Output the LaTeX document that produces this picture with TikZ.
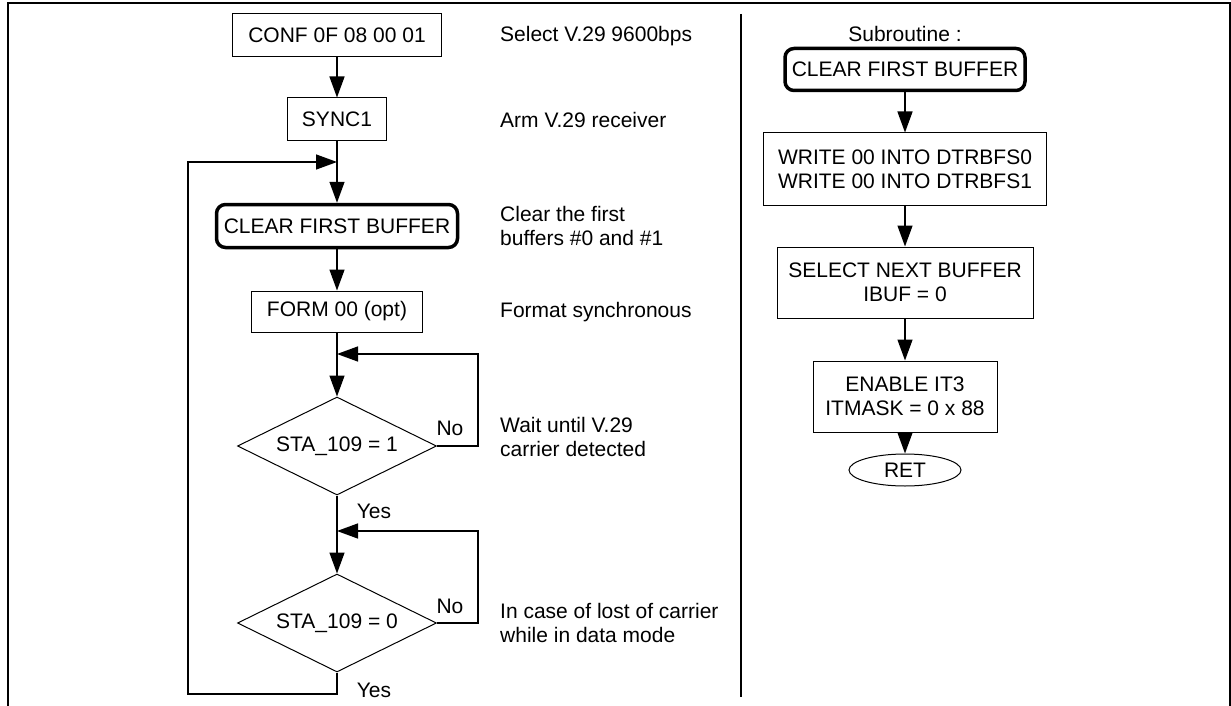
\documentclass[tikz,border=0pt]{standalone}
\usepackage{fontspec}
\setmainfont{Liberation Sans}
\usetikzlibrary{arrows.meta,shapes.geometric}
\begin{document}
\begin{tikzpicture}[x=1pt,y=-1pt,
  txt/.style={font=\fontsize{21}{24}\selectfont},
  box/.style={draw, line width=1pt, inner sep=0pt, align=center, txt},
  rbox/.style={draw, line width=3.5pt, rounded corners=9pt, inner sep=0pt, align=center, txt},
  dec/.style={draw, line width=1pt, diamond, aspect=2.03, inner sep=0pt, txt},
  side/.style={anchor=west, align=left, inner sep=0pt, txt},
  conn/.style={line width=1.4pt},
  arr/.style={conn, -{Triangle[length=21pt,width=15pt]}}
]
\useasboundingbox (0,0) rectangle (1231,706);
% frame
\draw[line width=2.5pt] (8,706) -- (8,3) -- (1230,3) -- (1230,706);
\draw[line width=1.2pt] (741,14) -- (741,697);

% left flow
\node[box, minimum width=209pt, minimum height=43pt] (conf) at (337,35.5) {CONF 0F 08 00 01};
\node[box, minimum width=99pt, minimum height=43pt] (sync) at (337,119.5) {SYNC1};
\node[rbox, minimum width=241pt, minimum height=43pt] (clr) at (337,226) {CLEAR FIRST BUFFER};
\node[box, minimum width=171pt, minimum height=41pt] (form) at (337,311.5) {FORM 00 (opt)};
\node[dec, minimum width=199pt, minimum height=98pt] (d1) at (337,446) {STA\_109 = 1};
\node[dec, minimum width=199pt, minimum height=98pt] (d2) at (337,623) {STA\_109 = 0};

\coordinate (j1) at (337,162);
\coordinate (j2) at (337,354);
\coordinate (j3) at (337,531);
\coordinate (r1) at (478,446);
\coordinate (r1t) at (478,354);
\coordinate (r2) at (478,623);
\coordinate (r2t) at (478,531);
\coordinate (b1) at (337,694);
\coordinate (b2) at (188,694);
\coordinate (b3) at (188,162);

\draw[arr] (conf.south) -- (sync.north);
\draw[conn] (sync.south) -- (j1);
\draw[arr] (j1) -- (clr.north);
\draw[arr] (d2.south) -- (b1) -- (b2) -- (b3) -- (j1);
\draw[arr] (clr.south) -- (form.north);
\draw[conn] (form.south) -- (j2);
\draw[arr] (j2) -- (d1.north);
\draw[arr] (d1.east) -- (r1) -- (r1t) -- (j2);
\draw[conn] (d1.south) -- (j3);
\draw[arr] (j3) -- (d2.north);
\draw[arr] (d2.east) -- (r2) -- (r2t) -- (j3);

\node[txt, inner sep=0pt] (no1) at (450,428) {No};
\node[txt, inner sep=0pt] (no2) at (450,606) {No};
\node[txt, inner sep=0pt] (yes1) at (374,511) {Yes};
\node[txt, inner sep=0pt] (yes2) at (374,690) {Yes};

% side notes
\node[side] (n1) at (500,36) {Select V.29 9600bps};
\node[side] (n2) at (500,120) {Arm V.29 receiver};
\node[side] (n3) at (500,226) {Clear the first\\buffers \#0 and \#1};
\node[side] (n4) at (500,312) {Format synchronous};
\node[side] (n5) at (500,437) {Wait until V.29\\carrier detected};
\node[side] (n6) at (500,623) {In case of lost of carrier\\while in data mode};

% subroutine
\node[txt, inner sep=0pt] (sub) at (905,34) {Subroutine :};
\node[rbox, minimum width=240pt, minimum height=42pt] (rclr) at (905,69.5) {CLEAR FIRST BUFFER};
\node[box, minimum width=283pt, minimum height=72pt] (write) at (905,169) {WRITE 00 INTO DTRBFS0\\WRITE 00 INTO DTRBFS1};
\node[box, minimum width=256pt, minimum height=71pt] (sel) at (905,282.5) {SELECT NEXT BUFFER\\IBUF = 0};
\node[box, minimum width=184pt, minimum height=71pt] (en) at (905,396.5) {ENABLE IT3\\ITMASK = 0 x 88};
\node[draw, line width=1pt, ellipse, inner sep=0pt, minimum width=112pt, minimum height=32pt, txt] (ret) at (905,470) {RET};

\draw[arr] (rclr.south) -- (write.north);
\draw[arr] (write.south) -- (sel.north);
\draw[arr] (sel.south) -- (en.north);
\draw[arr] (en.south) -- (ret.north);
\end{tikzpicture}
\end{document}
